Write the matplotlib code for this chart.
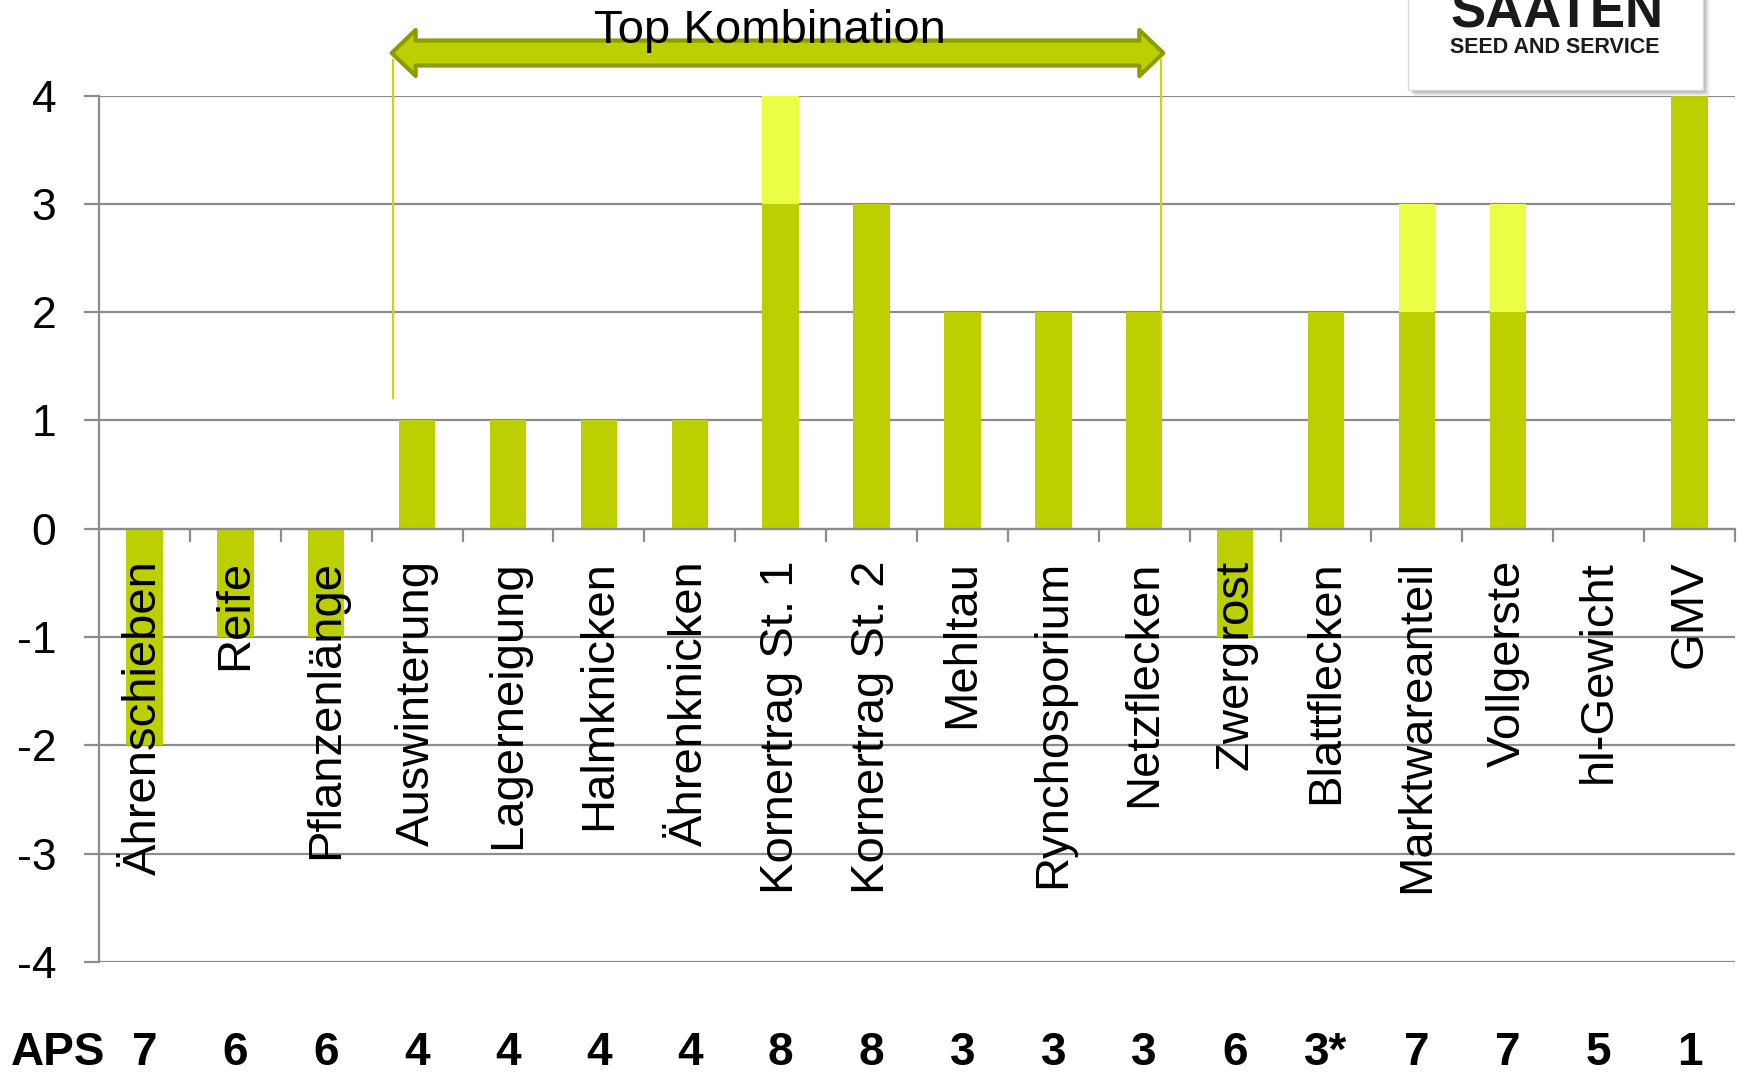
import matplotlib
matplotlib.use("Agg")
import matplotlib.pyplot as plt
from matplotlib.patches import Polygon, Rectangle
from matplotlib.transforms import IdentityTransform, blended_transform_factory
from matplotlib.lines import Line2D

plt.rcParams['font.family'] = ['Liberation Sans', 'DejaVu Sans']
plt.rcParams['axes.unicode_minus'] = False

# --- data ---
categories = ["Ährenschieben", "Reife", "Pflanzenlänge", "Auswinterung", "Lagerneigung",
              "Halmknicken", "Ährenknicken", "Kornertrag St. 1", "Kornertrag St. 2", "Mehltau",
              "Rynchosporium", "Netzflecken", "Zwergrost", "Blattflecken", "Marktwareanteil",
              "Vollgerste", "hl-Gewicht", "GMV"]
base_values = [-2, -1, -1, 1, 1, 1, 1, 3, 3, 2, 2, 2, -1, 2, 2, 2, 0, 4]
bonus_values = [0, 0, 0, 0, 0, 0, 0, 1, 0, 0, 0, 0, 0, 0, 1, 1, 0, 0]
aps_scores = ["7", "6", "6", "4", "4", "4", "4", "8", "8", "3", "3", "3", "6", "3*", "7", "7", "5", "1"]
y_ticks = [-4, -3, -2, -1, 0, 1, 2, 3, 4]
top_range = (3, 11)  # Auswinterung .. Netzflecken

DARK = '#BCCF00'
LIGHT = '#E9FE45'
GRID = '#8C8C8C'

W, H = 1744, 1072
fig = plt.figure(figsize=(W / 100, H / 100), dpi=100)
ax = fig.add_axes([99 / W, 1 - 962 / H, (1735 - 99) / W, (962 - 95.6) / H])

x = list(range(len(categories)))
ax.bar(x, base_values, width=0.4, color=DARK, zorder=2)
ax.bar(x, bonus_values, width=0.4, bottom=base_values, color=LIGHT, zorder=2)

ax.set_xlim(-0.5, len(categories) - 0.5)
ax.set_ylim(-4, 4)
ax.set_yticks(y_ticks)
ax.set_yticklabels([str(v) for v in y_ticks])
ax.yaxis.grid(True, color=GRID, lw=1.6, zorder=0)
ax.set_axisbelow(True)

for s in ['top', 'right']:
    ax.spines[s].set_visible(False)
ax.spines['left'].set_color(GRID)
ax.spines['left'].set_linewidth(1.6)
ax.spines['bottom'].set_position(('data', 0))
ax.spines['bottom'].set_color(GRID)
ax.spines['bottom'].set_linewidth(1.6)

ax.set_xticks([i + 0.5 for i in x])
ax.set_xticklabels([])
ax.tick_params(axis='x', direction='out', length=9.5, width=1.6, color=GRID)
ax.tick_params(axis='y', direction='out', length=10.8, width=1.6, color=GRID,
               pad=20, labelsize=32)

for i, name in enumerate(categories):
    ax.text(i, -0.29, name, rotation=90, ha='center', va='top', fontsize=34, zorder=5)

# APS row
bt = blended_transform_factory(ax.transData, fig.transFigure)
fig.text(58 / W, 7 / H, "APS", ha='center', va='baseline', fontsize=33, fontweight='bold')
for i, s in enumerate(aps_scores):
    ax.text(i, 7 / H, s, transform=bt, ha='center', va='baseline', fontsize=33,
            fontweight='bold', clip_on=False)

# "Top Kombination" arrow
fig.canvas.draw()
xl = ax.transData.transform((top_range[0] - 0.28, 0))[0]
xr = ax.transData.transform((top_range[1] + 0.21, 0))[0]
yc = H - 53
head_len, head_half, shaft_half = 24, 23, 12.5
pts = [(xl, yc), (xl + head_len, yc + head_half), (xl + head_len, yc + shaft_half),
       (xr - head_len, yc + shaft_half), (xr - head_len, yc + head_half), (xr, yc),
       (xr - head_len, yc - head_half), (xr - head_len, yc - shaft_half),
       (xl + head_len, yc - shaft_half), (xl + head_len, yc - head_half)]
arrow = Polygon(pts, closed=True, facecolor=DARK, edgecolor='#8C9B00', lw=3,
                joinstyle='round', transform=IdentityTransform(), zorder=6)
fig.add_artist(arrow)
for xv in (xl + 1, xr - 2):
    fig.add_artist(Line2D([xv, xv], [H - 60, H - 398], color='#C6DA00', lw=1.6,
                          transform=IdentityTransform(), zorder=6))
fig.text(770 / W, 1 - 43 / H, "Top Kombination", ha='center', va='baseline',
         fontsize=34, zorder=7)

# logo box
for k, a in enumerate([0.10, 0.18, 0.30]):
    off = 7 - 2 * k
    fig.add_artist(Rectangle((1408 + off, H - 90 - off), 295, 110, facecolor='#808080',
                             edgecolor='none', alpha=a, transform=IdentityTransform(), zorder=8))
fig.add_artist(Rectangle((1408, H - 90), 295, 110, facecolor='white', edgecolor='#d8d8d8',
                         lw=1, transform=IdentityTransform(), zorder=9))
fig.text(1557 / W, 1 - 28 / H, "SAATEN", ha='center', va='baseline', fontsize=38,
         fontweight='bold', color='#1a1a1a', zorder=10)
fig.text(1555 / W, 1 - 53 / H, "SEED AND SERVICE", ha='center', va='baseline', fontsize=15.5,
         fontweight='bold', color='#1a1a1a', zorder=10)

fig.savefig("out.png", dpi=100, facecolor='white')
